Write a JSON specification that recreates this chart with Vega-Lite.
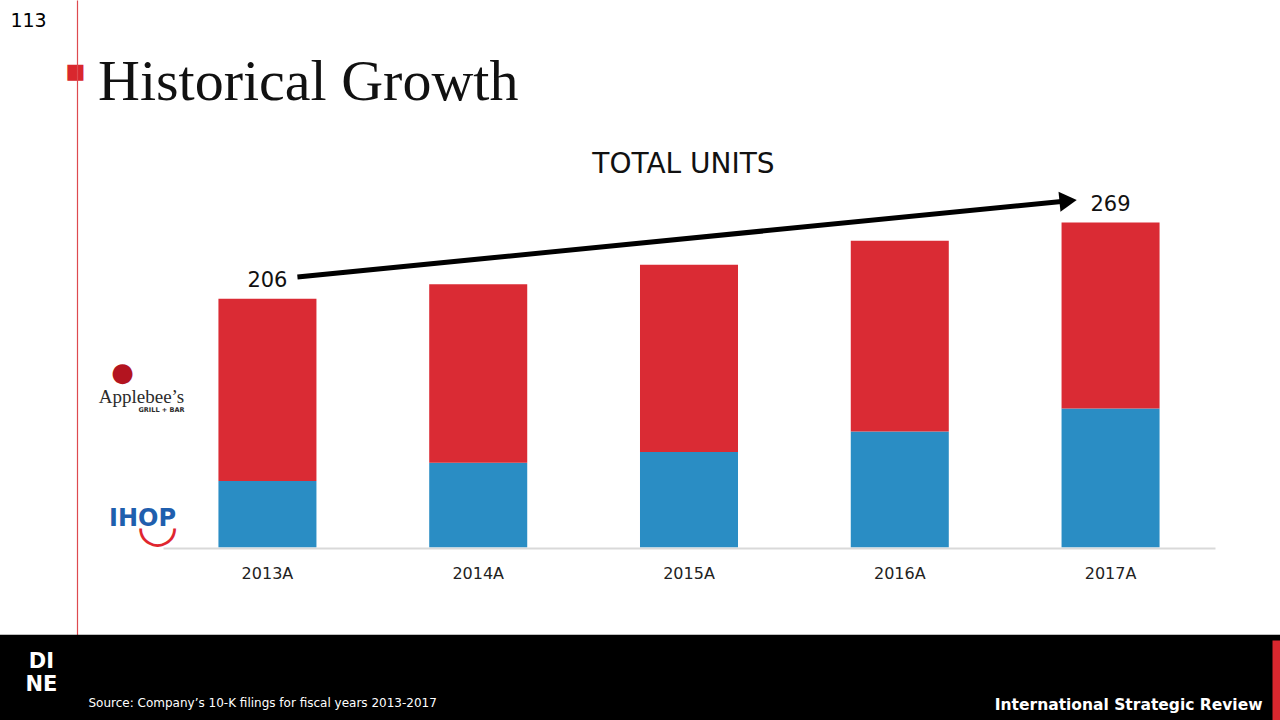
{
  "$schema": "https://vega.github.io/schema/vega-lite/v6.json",
  "width": 1280,
  "height": 720,
  "autosize": {"type": "none"},
  "padding": 0,
  "background": "white",
  "config": {"view": {"stroke": null}, "font": "DejaVu Sans", "axis": {"grid": false}},
  "title": {"text": "Historical Growth", "anchor": "start", "frame": "group", "dx": 98, "offset": -158, "baseline": "alphabetic", "font": "Liberation Serif", "fontSize": 58, "fontWeight": "normal", "color": "#111111"},
  "datasets": {
    "units": [
      {"year": "2013A", "brand": "IHOP", "units": 55},
      {"year": "2013A", "brand": "Applebee’s", "units": 151},
      {"year": "2014A", "brand": "IHOP", "units": 70},
      {"year": "2014A", "brand": "Applebee’s", "units": 148},
      {"year": "2015A", "brand": "IHOP", "units": 79},
      {"year": "2015A", "brand": "Applebee’s", "units": 155},
      {"year": "2016A", "brand": "IHOP", "units": 96},
      {"year": "2016A", "brand": "Applebee’s", "units": 158},
      {"year": "2017A", "brand": "IHOP", "units": 115},
      {"year": "2017A", "brand": "Applebee’s", "units": 154}
    ],
    "totals": [
      {"year": "2013A", "total": 206},
      {"year": "2017A", "total": 269}
    ],
    "growth": [
      {"from": "2013A", "to": "2017A"}
    ],
    "footer": [
      {"section": "footer"}
    ]
  },
  "layer": [
    {
      "data": {"name": "footer"},
      "mark": {"type": "rect", "color": "#000000"},
      "encoding": {
        "y": {"datum": -72.4, "type": "quantitative", "axis": {"orient": "right", "domain": false, "ticks": true, "values": [-109.8], "tickSize": -8, "tickWidth": 80, "tickColor": "#d9272e", "labels": false, "title": "International Strategic Review", "titleAngle": 0, "titleX": -18, "titleY": 709, "titleAlign": "right", "titleBaseline": "alphabetic", "titleColor": "#ffffff", "titleFontSize": 15.5, "titleFontWeight": "bold", "titleFont": "DejaVu Sans", "zindex": 1}},
        "y2": {"datum": -143}
      }
    },
    {
      "data": {"name": "units"},
      "mark": {"type": "bar"},
      "encoding": {
        "x": {"field": "year", "type": "nominal", "scale": {"type": "band", "range": [163, 1215], "paddingInner": 0.535, "paddingOuter": 0.263},
          "axis": {"orient": "bottom", "offset": -172, "domain": true, "domainColor": "#d9d9d9", "domainWidth": 2, "ticks": false, "labelAngle": 0, "labelFontSize": 16, "labelColor": "#222222", "labelPadding": 17, "labelBaseline": "top",
            "title": "TOTAL UNITS", "titleX": 683, "titleY": -376, "titleAlign": "center", "titleBaseline": "alphabetic", "titleFontSize": 28, "titleFontWeight": "normal", "titleColor": "#111111"}},
        "y": {"field": "units", "type": "quantitative", "stack": "zero", "scale": {"domain": [-143, 453.4], "nice": false, "zero": false},
          "axis": {"orient": "left", "offset": -77, "domain": true, "domainColor": "#de4a4f", "domainWidth": 1.2, "ticks": false, "tickSize": 0,
            "labelOverlap": false, "labelFlush": false, "labelBound": false,
            "values": [17, 24, 114.2, 125.2, 145, 394],
            "labelExpr": "datum.value > 300 ? '■' : (datum.value > 135 ? '●' : (datum.value > 120 ? 'Applebee’s' : (datum.value > 100 ? 'GRILL + BAR' : (datum.value > 20 ? 'IHOP' : '◡'))))",
            "labelAlign": "center", "labelBaseline": "middle",
            "labelPadding": {"condition": [{"test": "datum.value > 300", "value": 2}, {"test": "datum.value > 135", "value": -45}, {"test": "datum.value > 120", "value": -64}, {"test": "datum.value > 100", "value": -84}, {"test": "datum.value > 20", "value": -65}], "value": -80},
            "labelColor": {"condition": [{"test": "datum.value > 300", "value": "#d9272e"}, {"test": "datum.value > 135", "value": "#b3141f"}, {"test": "datum.value > 100", "value": "#2b2b2b"}, {"test": "datum.value > 20", "value": "#1f5fae"}], "value": "#e0262f"},
            "labelFont": {"condition": {"test": "datum.value > 120 && datum.value < 135", "value": "Liberation Serif"}, "value": "DejaVu Sans"},
            "labelFontSize": {"condition": [{"test": "datum.value > 300", "value": 21}, {"test": "datum.value > 135", "value": 26}, {"test": "datum.value > 120", "value": 19}, {"test": "datum.value > 100", "value": 6.5}, {"test": "datum.value > 20", "value": 24}], "value": 48},
            "labelFontWeight": {"condition": {"test": "(datum.value > 20 && datum.value < 100) || (datum.value > 100 && datum.value < 120)", "value": "bold"}, "value": "normal"},
            "title": "113", "titleAngle": 0, "titleX": -49, "titleY": 26, "titleAlign": "center", "titleBaseline": "alphabetic", "titleFontSize": 19, "titleFontWeight": "normal", "titleColor": "#000000"}},
        "color": {"field": "brand", "type": "nominal", "scale": {"domain": ["IHOP", "Applebee’s"], "range": ["#2a8dc4", "#da2b34"]}, "legend": null},
        "order": {"field": "brand", "sort": "descending"}
      }
    },
    {
      "data": {"name": "totals"},
      "mark": {"type": "text", "dy": -12, "baseline": "alphabetic", "fontSize": 21, "color": "#111111"},
      "encoding": {
        "x": {"field": "year", "type": "nominal", "axis": null},
        "y": {"field": "total", "type": "quantitative", "axis": null},
        "text": {"field": "total", "type": "quantitative"}
      }
    },
    {
      "data": {"name": "growth"},
      "mark": {"type": "rule", "strokeWidth": 5, "color": "#000000"},
      "encoding": {
        "x": {"field": "from", "type": "nominal", "bandPosition": 0.806,
          "axis": {"orient": "top", "domain": false, "ticks": false, "labels": true, "values": ["2013A"], "labelExpr": "['DI', 'NE']", "labelAngle": 0, "labelColor": "#ffffff", "labelFontWeight": "bold", "labelFontSize": 21, "labelLineHeight": 23, "labelBaseline": "middle", "labelAlign": "center", "labelPadding": -661, "labelOffset": -226,
            "title": "Source:  Company’s 10-K filings for fiscal years 2013-2017", "titleX": 88, "titleY": 706, "titleAlign": "left", "titleBaseline": "alphabetic", "titleColor": "#ffffff", "titleFontSize": 12, "titleFontWeight": "normal", "zindex": 1}},
        "x2": {"field": "to", "bandPosition": 0.0},
        "y": {"datum": 224, "type": "quantitative", "axis": null},
        "y2": {"datum": 286.5}
      }
    },
    {
      "data": {"name": "growth"},
      "mark": {"type": "point", "shape": "triangle-right", "filled": true, "size": 400, "angle": -5.6, "color": "#000000", "opacity": 1},
      "encoding": {
        "x": {"field": "to", "type": "nominal", "bandPosition": 0.067, "axis": null},
        "y": {"datum": 287, "type": "quantitative", "axis": null}
      }
    }
  ],
  "resolve": {"axis": {"x": "independent", "y": "independent"}}
}
